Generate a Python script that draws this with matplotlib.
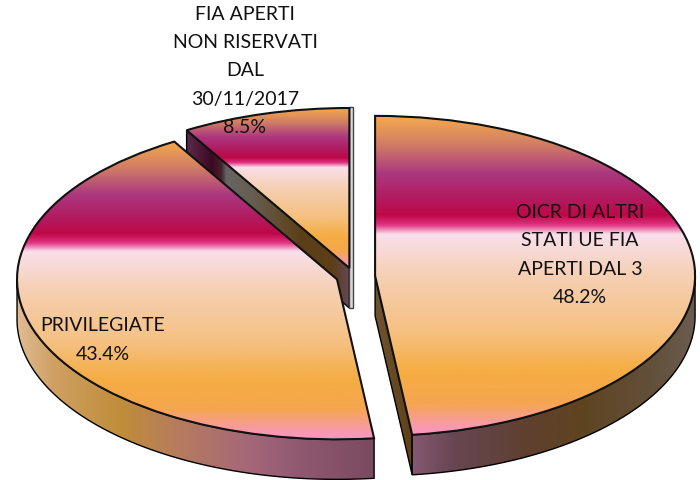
import matplotlib
matplotlib.use("Agg")
import matplotlib.pyplot as plt
from matplotlib.colors import LinearSegmentedColormap
from matplotlib.patches import Polygon
import numpy as np

plt.rcParams["font.family"] = ["Lato", "DejaVu Sans"]

# Data
names = ["OICR DI ALTRI\nSTATI UE FIA\nAPERTI DAL 3", "PRIVILEGIATE", "FIA APERTI\nNON RISERVATI\nDAL\n30/11/2017"]
values = [48.2, 43.4, 8.5]
explode = [0.066, 0.056, 0.055]

# pixel position of each label (centre)
label_pos = [(580, 255), (103, 340), (245, 71)]

# gradient of the top faces, top to bottom
top_stops = [(0, "#F5A94C"), (0.09, "#CF7C66"), (0.18, "#AB377F"), (0.25, "#B21D62"), (0.31, "#BE0848"),
             (0.34, "#E0307F"), (0.37, "#F9DFEA"), (0.5, "#F6D0B4"), (0.68, "#F5C080"), (0.8, "#F5AD43"),
             (0.9, "#F5A64F"), (0.985, "#F998B8"), (1, "#FB96C0")]
# gradients of the rims, left to right
side_stops = [
    [(0, "#855870"), (0.15, "#674652"), (0.4, "#5F4030"), (0.6, "#5F4420"), (0.85, "#63503A"), (1, "#6A5C50")],
    [(0, "#E0BC94"), (0.1, "#CFA063"), (0.29, "#C08D3A"), (0.45, "#B57C5E"), (0.65, "#A5677A"), (0.8, "#8E5870"), (1, "#7A4A60")],
]
cut_stops = [
    [(0, "#6F5430"), (1, "#5F4018")],
    [(0, "#7A4A60"), (1, "#7A4A60")],
    [(0, "#5A2A4A"), (0.15, "#3C0A22"), (0.21, "#45202C"), (0.24, "#666464"), (0.4, "#675E50"), (0.7, "#5C3F18"), (0.9, "#5C3F18"), (1, "#664858")],
]
depth = 0.25

fig = plt.figure(figsize=(7, 4.81), dpi=100)
ax = fig.add_axes([0, 0, 1, 1])
wedges, _ = ax.pie(values, explode=explode, startangle=90, counterclock=False, radius=1)


def fill_gradient(patch, stops, z, vertical=False):
    cmap = LinearSegmentedColormap.from_list("g", stops)
    box = patch.get_path().get_extents()
    grad = np.linspace(0, 1, 512)
    grad = grad.reshape(-1, 1) if vertical else grad.reshape(1, -1)
    im = ax.imshow(grad, cmap=cmap, vmin=0, vmax=1, aspect="auto", origin="upper",
                   extent=(box.x0, box.x1, box.y0, box.y1), zorder=z)
    im.set_clip_path(patch)


def add_wall(pts, stops, z):
    wall = Polygon(pts, closed=True, facecolor="none", edgecolor="black", linewidth=1.0, zorder=z + 0.1)
    ax.add_patch(wall)
    fill_gradient(wall, stops, z)


# drawn back to front: small slice, left slice, big slice
for i in [2, 1, 0]:
    w = wedges[i]
    z = 10 * (3 - i)
    cx, cy = w.center
    # which cut faces the viewer
    cut_angle = {0: w.theta1, 2: w.theta2}.get(i)
    if cut_angle is not None:
        rx = cx + np.cos(np.radians(cut_angle))
        ry = cy + np.sin(np.radians(cut_angle))
        add_wall([(cx, cy), (rx, ry), (rx, ry - depth), (cx, cy - depth)], cut_stops[i], z)
    # outer rim, only the part at the front
    a = np.radians(np.linspace(w.theta1, w.theta2, 300))
    a = a[np.sin(a) <= 0]
    if len(a):
        x = cx + np.cos(a)
        y = cy + np.sin(a)
        pts = np.r_[np.c_[x, y], np.c_[x, y - depth][::-1]]
        add_wall(pts, side_stops[i], z + 1)
    if i == 2:
        # thin sliver next to the straight edge
        ax.add_patch(Polygon([(cx, cy + 1.005), (cx + 0.01, cy + 1.005), (cx + 0.01, cy - depth), (cx, cy - depth)],
                             closed=True, facecolor="#D8D8D8", edgecolor="#444444", linewidth=1.0, zorder=z + 2))
    # top face
    w.set_facecolor("none")
    w.set_edgecolor("#111111")
    w.set_linewidth(1.5)
    w.set_zorder(z + 4)
    fill_gradient(w, top_stops, z + 3, vertical=True)

# limits so that 1 unit is 320 px across and 160 px high, pie centre at (354, 277.5)
ax.set_aspect("auto")
ax.set_xlim(-354 / 320, (700 - 354) / 320)
ax.set_ylim(-(481 - 277.5) / 160, 277.5 / 160)
ax.axis("off")

for name, val, (px, py) in zip(names, values, label_pos):
    fig.text(px / 700, 1 - py / 481, f"{name}\n{val}%", ha="center", va="center", fontsize=14,
             color="#111111", linespacing=1.82, zorder=100)

fig.savefig("out.png", dpi=100)
